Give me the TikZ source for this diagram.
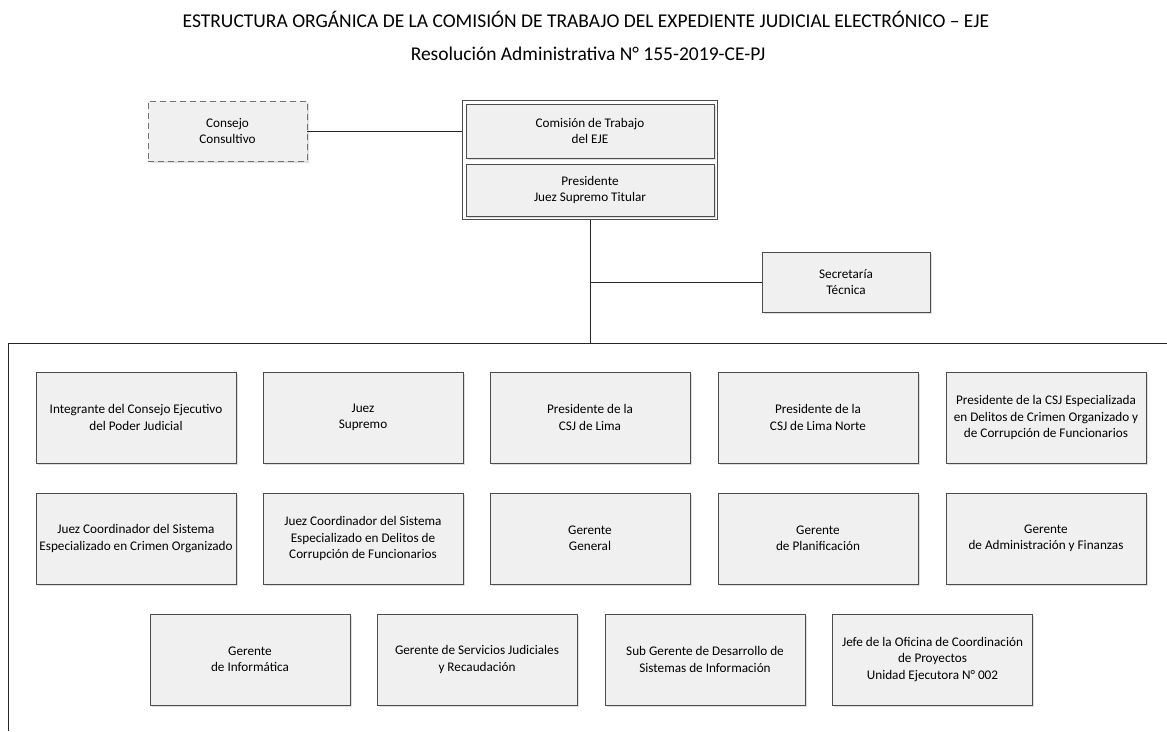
\documentclass[tikz,border=0pt]{standalone}
\usepackage{fontspec}
\setmainfont{Carlito}
\usetikzlibrary{fit,shadows}

\begin{document}
\begin{tikzpicture}[x=1pt,y=-1pt,
  caja/.style={draw=black!70, fill=black!6, line width=0.8pt, align=center,
    inner sep=1pt, font=\fontsize{13.2}{16.5}\selectfont,
    drop shadow={opacity=0.25,shadow xshift=1.5pt,shadow yshift=-1.5pt}},
  miembro/.style={caja, minimum width=200pt, minimum height=91pt},
  linea/.style={draw=black!85, line width=0.8pt}]
\useasboundingbox (0,0) rectangle (1167,731);
\node (titulo) at (586,19) [font=\fontsize{19.5}{22}\selectfont]{ESTRUCTURA ORGÁNICA DE LA COMISIÓN DE TRABAJO DEL EXPEDIENTE JUDICIAL ELECTRÓNICO – EJE};
\node (resol) at (588,54) [font=\fontsize{19.5}{22}\selectfont]{Resolución Administrativa N° 155-2019-CE-PJ};
\node (consejo) at (227.5,131) [caja, draw=black!55, dash pattern=on 6pt off 4pt, minimum width=159pt, minimum height=60pt]{Consejo\\Consultivo};
\node (comision) at (590,131) [caja, minimum width=248pt, minimum height=54pt]{Comisión de Trabajo\\del EJE};
\node (presidente) at (590,190) [caja, minimum width=248pt, minimum height=52pt]{Presidente\\Juez Supremo Titular};
\node (eje) [fit=(comision)(presidente), inner sep=3pt, draw=black!70, line width=0.8pt]{};
\node (secretaria) at (846,282) [caja, minimum width=168pt, minimum height=60pt]{Secretaría\\Técnica};
\coordinate (esquina) at (8,343);
\draw [linea] (1167,343) -- (esquina) -- (8,731);
\draw [linea] (consejo.east) -- (consejo.east -| eje.west);
\draw [linea] (eje.south) -- (eje.south |- esquina);
\draw [linea] (secretaria.west) -- (secretaria.west -| eje.south);
\node (integrante) at (136,417.5) [miembro]{Integrante del Consejo Ejecutivo\\del Poder Judicial};
\node (juez) at (363,417.5) [miembro]{Juez\\Supremo};
\node (csjlima) at (590,417.5) [miembro]{Presidente de la\\CSJ de Lima};
\node (csjnorte) at (818,417.5) [miembro]{Presidente de la\\CSJ de Lima Norte};
\node (csjespecial) at (1046,417.5) [miembro]{Presidente de la CSJ Especializada\\en Delitos de Crimen Organizado y\\de Corrupción de Funcionarios};
\node (coordcrimen) at (136,538.5) [miembro]{Juez Coordinador del Sistema\\Especializado en Crimen Organizado};
\node (coordcorrup) at (363,538.5) [miembro]{Juez Coordinador del Sistema\\Especializado en Delitos de\\Corrupción de Funcionarios};
\node (general) at (590,538.5) [miembro]{Gerente\\General};
\node (planif) at (818,538.5) [miembro]{Gerente\\de Planificación};
\node (admin) at (1046,538.5) [miembro]{Gerente\\de Administración y Finanzas};
\node (informatica) at (250,659.5) [miembro]{Gerente\\de Informática};
\node (servicios) at (477,659.5) [miembro]{Gerente de Servicios Judiciales\\y Recaudación};
\node (subgerente) at (705,659.5) [miembro]{Sub Gerente de Desarrollo de\\Sistemas de Información};
\node (jefe) at (932.5,659.5) [miembro]{Jefe de la Oficina de Coordinación\\de Proyectos\\Unidad Ejecutora N° 002};
\end{tikzpicture}
\end{document}
